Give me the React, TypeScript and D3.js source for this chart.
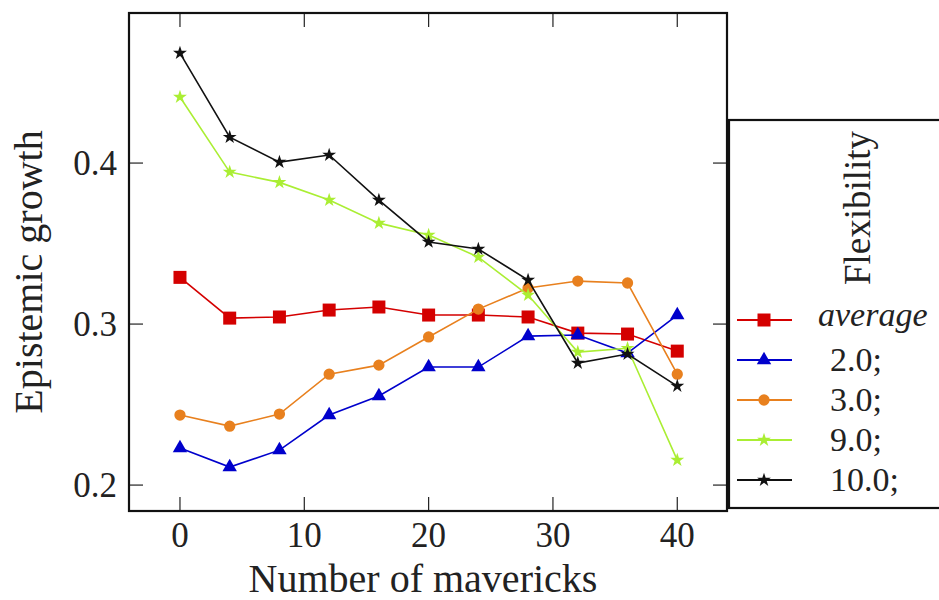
import * as d3 from 'd3';
import React from 'react';

const mavericks = [0, 4, 8, 12, 16, 20, 24, 28, 32, 36, 40];

const averageVals = [0.329, 0.3037, 0.3044, 0.3087, 0.3106, 0.3056, 0.3056, 0.3044, 0.2944, 0.2938, 0.2832];
const flex2Vals = [0.223, 0.2112, 0.2217, 0.2435, 0.2553, 0.2733, 0.2733, 0.2925, 0.2932, 0.282, 0.3056];
const flex3Vals = [0.2435, 0.2366, 0.2441, 0.2689, 0.2745, 0.292, 0.3093, 0.3224, 0.3267, 0.3255, 0.2689];
const flex9Vals = [0.441, 0.3944, 0.388, 0.377, 0.3627, 0.3553, 0.3416, 0.318, 0.2826, 0.285, 0.2155];
const flex10Vals = [0.4683, 0.4161, 0.4006, 0.405, 0.377, 0.351, 0.3466, 0.3273, 0.2758, 0.2814, 0.2615];

const seriesLabels = ['average', '2.0;', '3.0;', '9.0;', '10.0;'];
const xTicks = [0, 10, 20, 30, 40];
const yTicks = [0.2, 0.3, 0.4];

const FONT = '"Liberation Serif", "DejaVu Serif", serif';
const TEXT = '#222';

export default function App() {
  const width = 939;
  const height = 600;
  const left = 129, right = 727, top = 13, bottom = 511;

  const x = d3.scaleLinear().domain([-4.1, 44]).range([left, right]);
  const y = d3.scaleLinear().domain([0.1839, 0.4932]).range([bottom, top]);

  const series = [
    { name: seriesLabels[0], values: averageVals, color: '#d40000', symbol: d3.symbolSquare, size: 169 },
    { name: seriesLabels[1], values: flex2Vals, color: '#0000cc', symbol: d3.symbolTriangle, size: 90 },
    { name: seriesLabels[2], values: flex3Vals, color: '#e8801e', symbol: d3.symbolCircle, size: 100 },
    { name: seriesLabels[3], values: flex9Vals, color: '#aaee33', symbol: d3.symbolStar, size: 60 },
    { name: seriesLabels[4], values: flex10Vals, color: '#111111', symbol: d3.symbolStar, size: 60 },
  ];

  const line = d3.line<number>()
    .x((_, i) => x(mavericks[i]))
    .y(d => y(d));

  const tickLen = 14;

  // legend box
  const lgLeft = 729, lgTop = 120, lgBottom = 508;
  const lgRowY = (i: number) => 320 + i * 40;

  return (
    <svg width={width} height={height}
      style={{ position: 'absolute', left: 0, top: 0, background: '#fff' }}
      fontFamily={FONT}>
      <rect x={0} y={0} width={width} height={height} fill="#fff" />

      {/* lines and markers */}
      {series.map(s => (
        <g key={s.name}>
          <path d={line(s.values) || ''} fill="none" stroke={s.color} strokeWidth={1.6} />
          {s.values.map((v, i) => (
            <path key={i}
              d={d3.symbol().type(s.symbol).size(s.size)() || ''}
              transform={`translate(${x(mavericks[i])},${y(v)})`}
              fill={s.color} />
          ))}
        </g>
      ))}

      {/* ticks on all sides */}
      {xTicks.map(t => (
        <g key={'xt' + t}>
          <line x1={x(t)} x2={x(t)} y1={bottom} y2={bottom - tickLen} stroke="#222" strokeWidth={1.2} />
          <line x1={x(t)} x2={x(t)} y1={top} y2={top + tickLen} stroke="#222" strokeWidth={1.2} />
          <text x={x(t)} y={547} textAnchor="middle" fontSize={35} fill={TEXT}>{t}</text>
        </g>
      ))}
      {yTicks.map(t => (
        <g key={'yt' + t}>
          <line x1={left} x2={left + tickLen} y1={y(t)} y2={y(t)} stroke="#222" strokeWidth={1.2} />
          <line x1={right} x2={right - tickLen} y1={y(t)} y2={y(t)} stroke="#222" strokeWidth={1.2} />
          <text x={117} y={y(t) + 12} textAnchor="end" fontSize={35} fill={TEXT}>{t.toFixed(1)}</text>
        </g>
      ))}

      {/* frame */}
      <rect x={left} y={top} width={right - left} height={bottom - top} fill="none" stroke="#111" strokeWidth={2.2} />

      {/* axis titles */}
      <text x={423} y={592} textAnchor="middle" fontSize={40} fill={TEXT}>Number of mavericks</text>
      <text transform={`translate(42,272) rotate(-90)`} textAnchor="middle" fontSize={40} fill={TEXT}>Epistemic growth</text>

      {/* legend */}
      <rect x={lgLeft} y={lgTop} width={width - lgLeft + 10} height={lgBottom - lgTop} fill="#fff" stroke="#111" strokeWidth={2.2} />
      <text transform={`translate(870,208) rotate(-90)`} textAnchor="middle" fontSize={37} fill={TEXT}>Flexibility</text>
      {series.map((s, i) => (
        <g key={'lg' + s.name}>
          <line x1={737} x2={792} y1={lgRowY(i)} y2={lgRowY(i)} stroke={s.color} strokeWidth={1.8} />
          <path d={d3.symbol().type(s.symbol).size(s.size)() || ''}
            transform={`translate(764,${lgRowY(i)})`} fill={s.color} />
          <text x={i === 0 ? 818 : 830} y={lgRowY(i) + (i === 0 ? 6 : 11)}
            fontSize={34} fontStyle={i === 0 ? 'italic' : 'normal'} fill={TEXT}>{s.name}</text>
        </g>
      ))}
    </svg>
  );
}
